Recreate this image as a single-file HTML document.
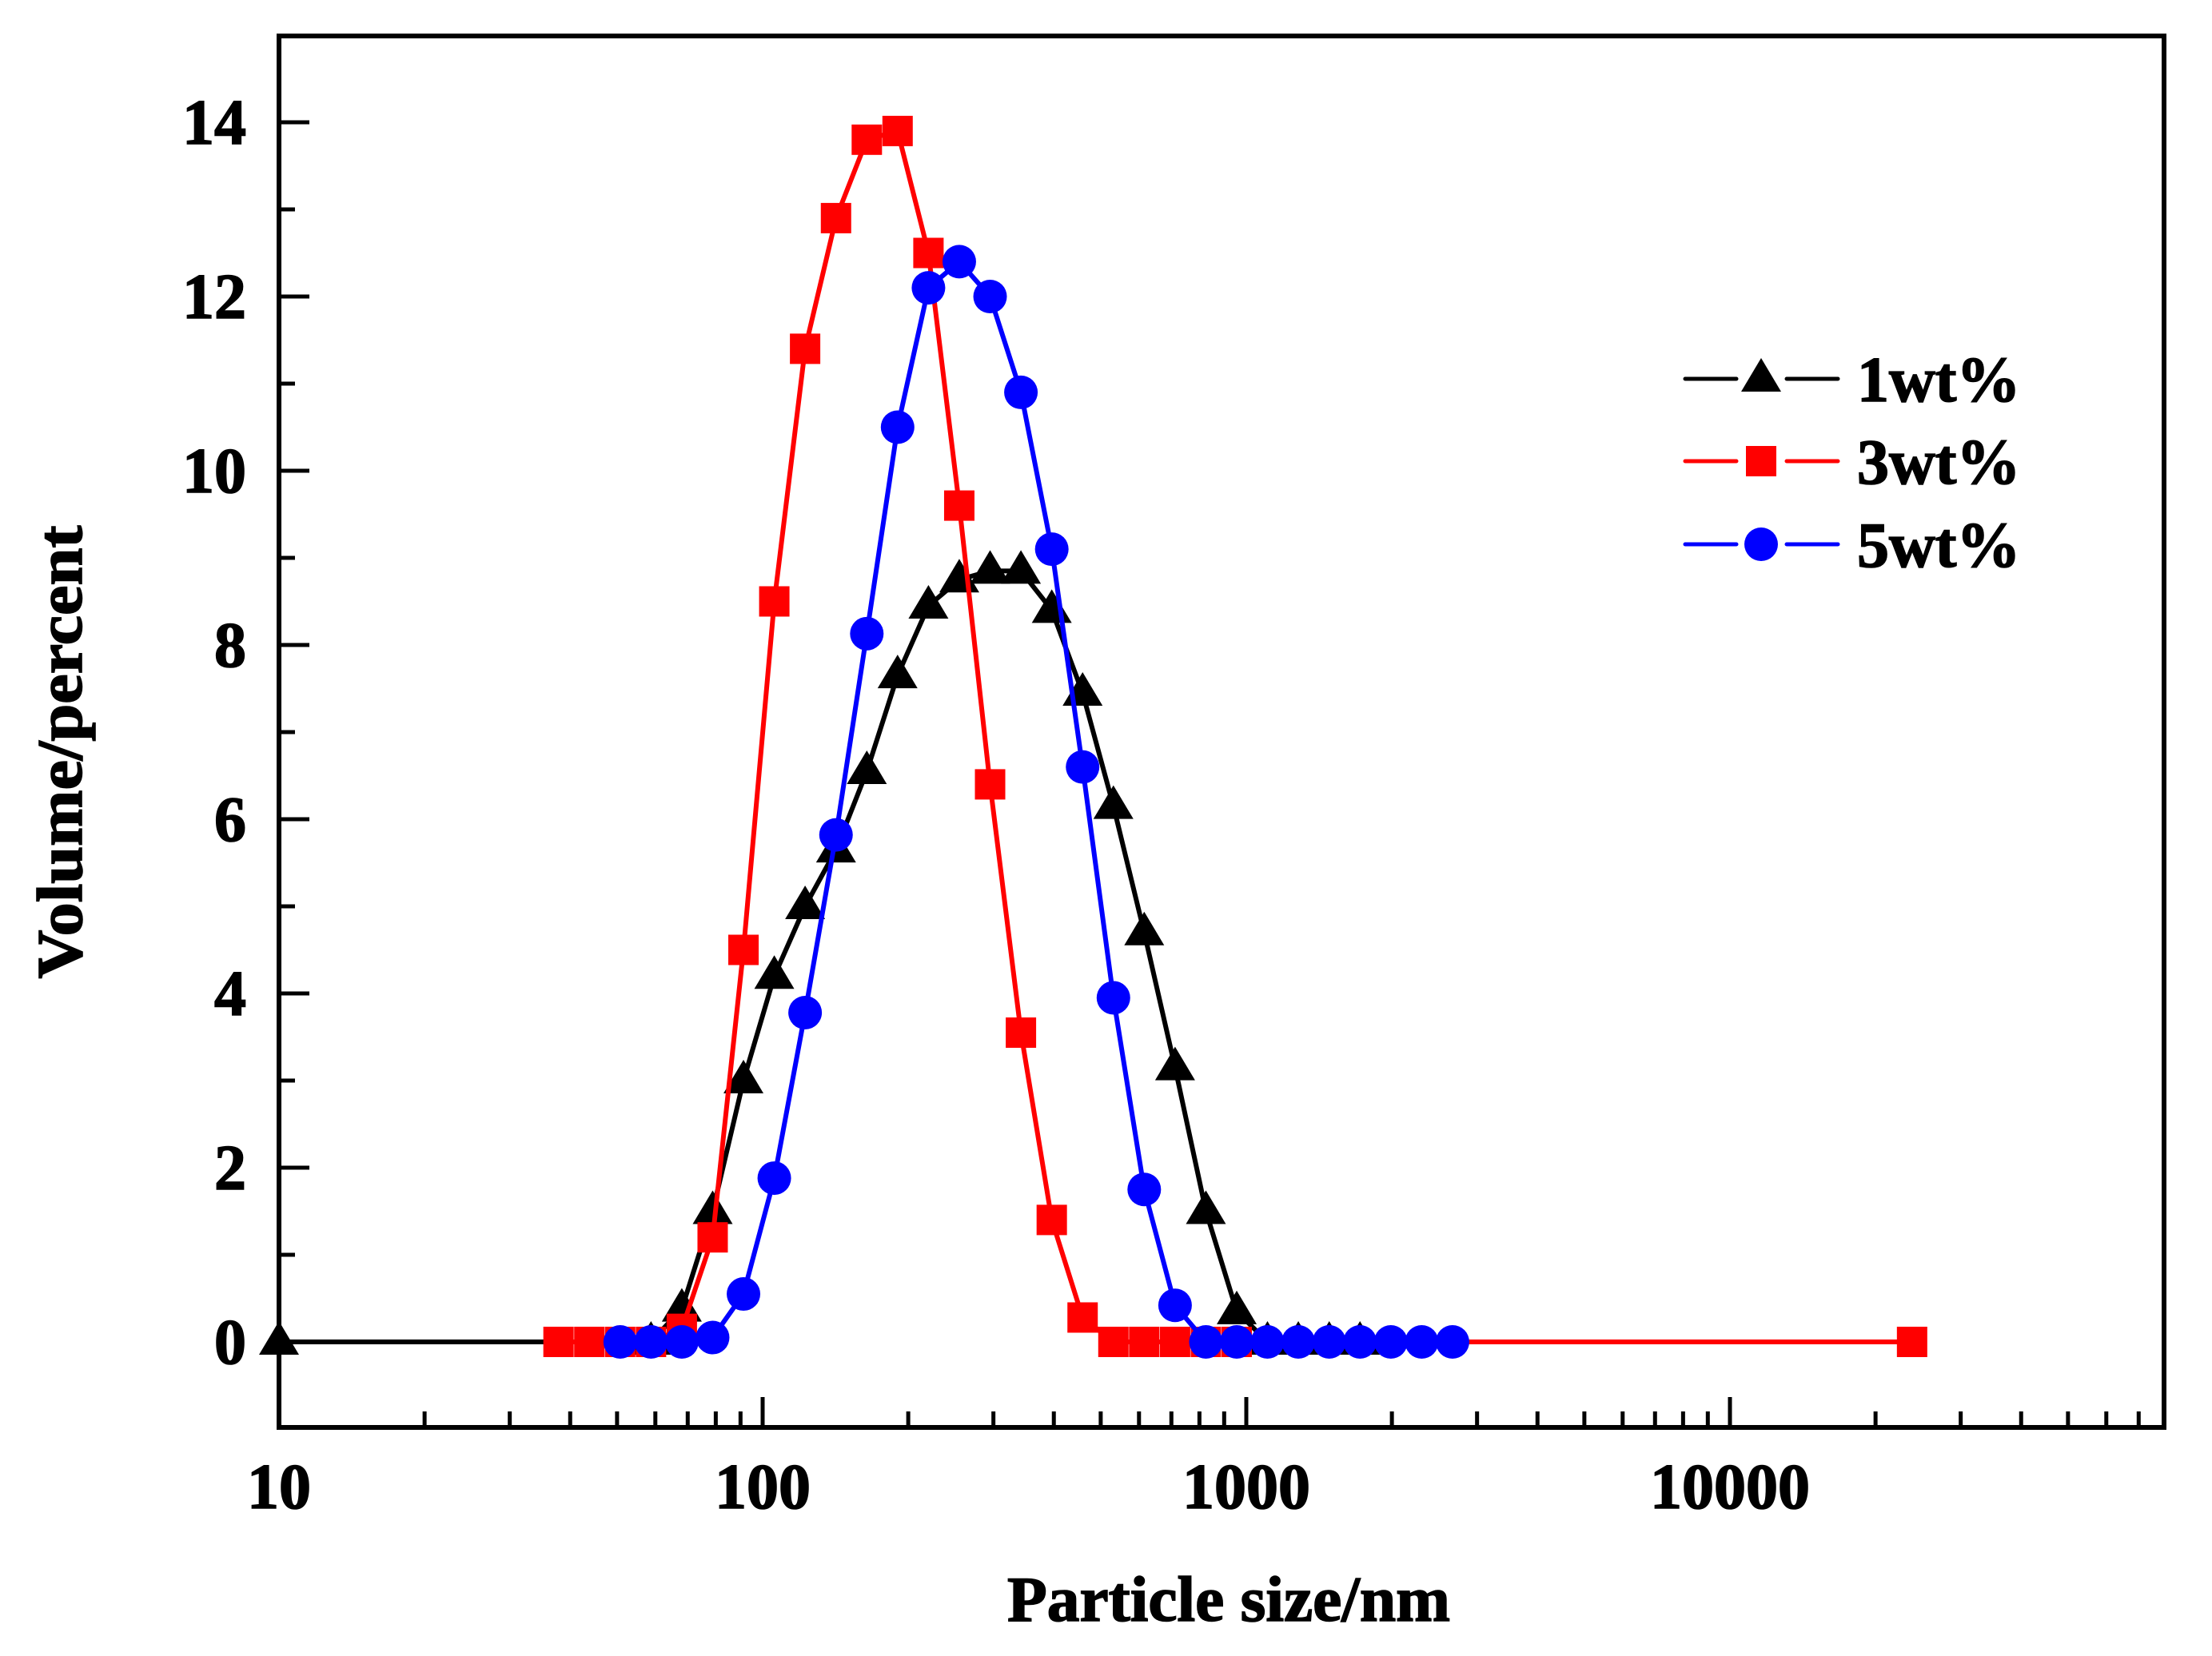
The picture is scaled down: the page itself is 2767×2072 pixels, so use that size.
<!DOCTYPE html>
<html><head><meta charset="utf-8">
<style>
html,body{margin:0;padding:0;background:#fff;}
svg{display:block;}
text{font-family:"Liberation Serif",serif;font-weight:bold;fill:#000;stroke:#000;stroke-width:1.6px;}
</style></head>
<body>
<svg id="chart" xmlns="http://www.w3.org/2000/svg" width="2767" height="2072" viewBox="0 0 2767 2072">
<rect x="0" y="0" width="2767" height="2072" fill="#fff"/>
<g id="series"></g>
<g id="axes"></g>
<g id="legend"></g>
<text x="1537" y="2028" font-size="80" text-anchor="middle" textLength="554" lengthAdjust="spacingAndGlyphs">Particle size/nm</text>
<text transform="translate(102,941) rotate(-90)" font-size="80" text-anchor="middle" textLength="567" lengthAdjust="spacingAndGlyphs">Volume/percent</text>
</svg>
<script>
// ---- data ----
const sizes1 = [10, 58.77, 68.06, 78.82, 91.28, 105.7, 122.4, 141.8, 164.2, 190.1, 220.2, 255.0, 295.3, 342.0, 396.1, 458.7, 531.2, 615.1, 712.4, 825.0, 955.4, 1106, 1281, 1484, 1718];
const vals1  = [0, 0, 0.38, 1.5, 3.0, 4.2, 5.0, 5.65, 6.55, 7.65, 8.45, 8.75, 8.85, 8.85, 8.4, 7.45, 6.15, 4.7, 3.15, 1.5, 0.35, 0, 0, 0, 0];
const sizes3 = [37.84, 43.82, 50.75, 58.77, 68.06, 78.82, 91.28, 105.7, 122.4, 141.8, 164.2, 190.1, 220.2, 255.0, 295.3, 342.0, 396.1, 458.7, 531.2, 615.1, 712.4, 825.0, 955.4, 23800];
const vals3  = [0, 0, 0, 0, 0.15, 1.2, 4.5, 8.5, 11.4, 12.9, 13.8, 13.9, 12.5, 9.6, 6.4, 3.55, 1.4, 0.28, 0, 0, 0, 0, 0, 0];
const sizes5 = [50.75, 58.77, 68.06, 78.82, 91.28, 105.7, 122.4, 141.8, 164.2, 190.1, 220.2, 255.0, 295.3, 342.0, 396.1, 458.7, 531.2, 615.1, 712.4, 825.0, 955.4, 1106, 1281, 1484, 1718, 1990, 2305, 2669];
const vals5  = [0, 0, 0, 0.05, 0.55, 1.88, 3.78, 5.82, 8.13, 10.5, 12.1, 12.4, 12.0, 10.9, 9.1, 6.6, 3.95, 1.75, 0.42, 0, 0, 0, 0, 0, 0, 0, 0, 0];
const yTicks = [0, 2, 4, 6, 8, 10, 12, 14];
const xTicks = [10, 100, 1000, 10000];
const xTickLabels = ["10", "100", "1000", "10000"];
const legendLabels = ["1wt%", "3wt%", "5wt%"];

// ---- scales ----
const L = 349, R = 2707, T = 45, B = 1786;
const DEC = 605;
const xMaxLog = 1 + (R - L) / DEC;
const Y0 = 1679, YU = 109;
function sx(v){ return L + (Math.log10(v) - 1) * DEC; }
function sy(v){ return Y0 - v * YU; }

const NS = "http://www.w3.org/2000/svg";
function mk(tag, attrs, parent){
  const e = document.createElementNS(NS, tag);
  for (const k in attrs) e.setAttribute(k, attrs[k]);
  parent.appendChild(e);
  return e;
}
const gS = document.getElementById('series');
const gA = document.getElementById('axes');
const gL = document.getElementById('legend');

function marker(type, cx, cy, color, parent){
  let e;
  if (type === 'tri') {
    e = mk('polygon', {points: `${cx},${cy-26} ${cx-25},${cy+16} ${cx+25},${cy+16}`, fill: color}, parent);
  } else if (type === 'sq') {
    e = mk('rect', {x: cx-19, y: cy-19, width: 38, height: 38, fill: color}, parent);
  } else {
    e = mk('ellipse', {cx: cx, cy: cy, rx: 21, ry: 21, fill: color}, parent);
  }
  return e;
}

function drawSeries(xs, ys, color, type, name){
  const g = mk('g', {}, gS);
  
  
  const pts = xs.map((x, i) => sx(x).toFixed(1) + ',' + sy(ys[i]).toFixed(1)).join(' ');
  const line = mk('polyline', {points: pts, fill: 'none', stroke: color, 'stroke-width': 6, 'stroke-linejoin': 'round'}, g);
  
  
  xs.forEach((x, i) => {
    const m = marker(type, sx(x), sy(ys[i]), color, g);
    
    
  });
}
drawSeries(sizes1, vals1, '#000', 'tri', 'series-1wt');
drawSeries(sizes3, vals3, '#f00', 'sq', 'series-3wt');
drawSeries(sizes5, vals5, '#00f', 'circ', 'series-5wt');

// ---- axes ----
const frame = mk('rect', {x: L, y: T, width: R-L, height: B-T, fill: 'none', stroke: '#000', 'stroke-width': 6}, gA);



for (let v = -1; v <= 15; v++) {
  const y = sy(v);
  if (y < T || y > B) continue;
  const major = yTicks.includes(v);
  const t = mk('line', {x1: L, x2: L + (major ? 38 : 20), y1: y, y2: y, stroke: '#000', 'stroke-width': 5}, gA);
  
  
}
yTicks.forEach(v => {
  const t = mk('text', {x: 308, y: sy(v) + 27, 'font-size': 80, 'text-anchor': 'end'}, gA);
  t.textContent = String(v);
  
  
});

for (let d = 1; d <= 4; d++) {
  for (let m = 1; m <= 9; m++) {
    const v = m * Math.pow(10, d);
    const lg = Math.log10(v);
    if (lg > xMaxLog) continue;
    const x = sx(v);
    const major = (m === 1);
    const t = mk('line', {x1: x, x2: x, y1: B, y2: B - (major ? 38 : 20), stroke: '#000', 'stroke-width': 5}, gA);
    
    
  }
}
xTicks.forEach((v, i) => {
  const t = mk('text', {x: sx(v), y: 1887, 'font-size': 80, 'text-anchor': 'middle'}, gA);
  t.textContent = xTickLabels[i];
  
  
});

// ---- legend ----
const lgColors = ['#000', '#f00', '#00f'];
const lgTypes = ['tri', 'sq', 'circ'];
const lgY = [474, 577, 681];
legendLabels.forEach((lab, i) => {
  const g = mk('g', {}, gL);
  
  
  mk('line', {x1: 2108, x2: 2172, y1: lgY[i], y2: lgY[i], stroke: lgColors[i], 'stroke-width': 5, 'stroke-linecap': 'round'}, g);
  mk('line', {x1: 2235, x2: 2299, y1: lgY[i], y2: lgY[i], stroke: lgColors[i], 'stroke-width': 5, 'stroke-linecap': 'round'}, g);
  marker(lgTypes[i], 2203, lgY[i], lgColors[i], g);
  const t = mk('text', {x: 2323, y: lgY[i] + 28, 'font-size': 80}, g);
  t.textContent = lab;
});
</script>
</body></html>
